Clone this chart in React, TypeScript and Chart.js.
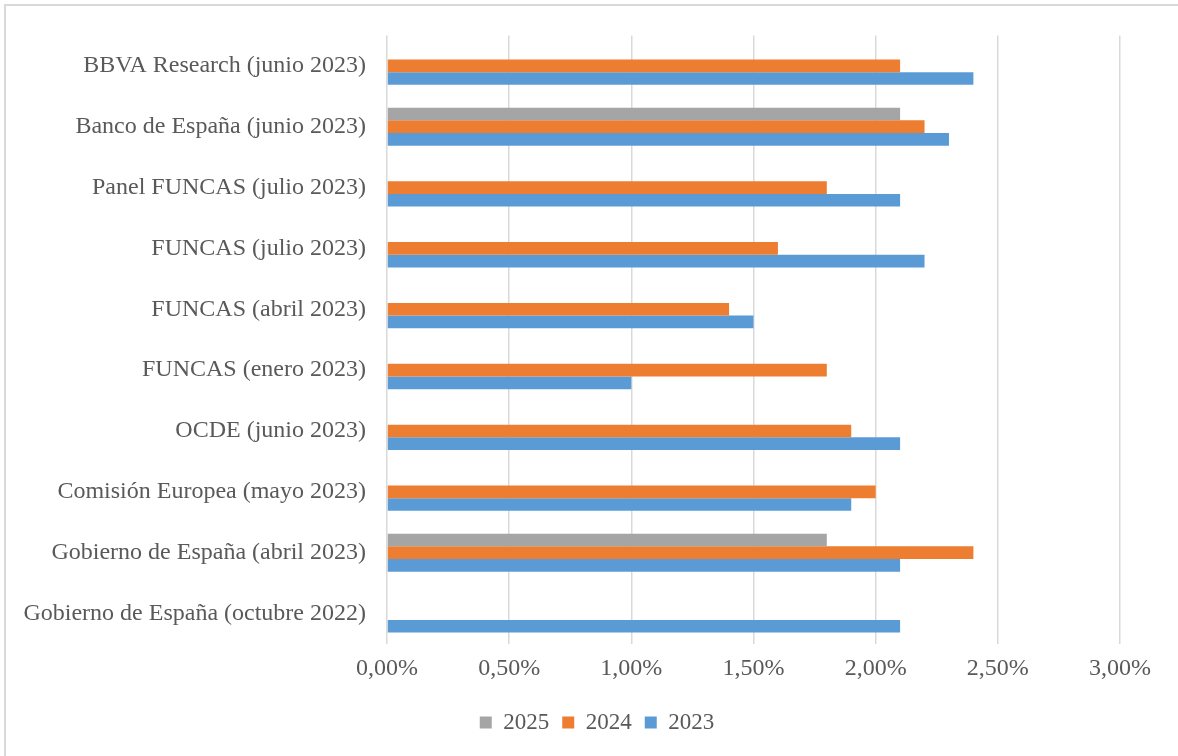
import React, { useEffect, useRef } from "react";
import { Chart, registerables } from "chart.js";

Chart.register(...registerables);

const categories = [
  "BBVA Research (junio 2023)",
  "Banco de España (junio 2023)",
  "Panel FUNCAS (julio 2023)",
  "FUNCAS (julio 2023)",
  "FUNCAS (abril 2023)",
  "FUNCAS (enero 2023)",
  "OCDE (junio 2023)",
  "Comisión Europea (mayo 2023)",
  "Gobierno de España (abril 2023)",
  "Gobierno de España (octubre 2022)",
];

const values2025: (number | null)[] = [null, 2.1, null, null, null, null, null, null, 1.8, null];
const values2024: (number | null)[] = [2.1, 2.2, 1.8, 1.6, 1.4, 1.8, 1.9, 2.0, 2.4, null];
const values2023: (number | null)[] = [2.4, 2.3, 2.1, 2.2, 1.5, 1.0, 2.1, 1.9, 2.1, 2.1];

const seriesLabels = ["2025", "2024", "2023"];
const seriesColors = ["#A5A5A5", "#ED7D31", "#5B9BD5"];

const xMin = 0;
const xMax = 3;
const xStep = 0.5;

const textColor = "#595959";
const gridColor = "#D9D9D9";
const fontFamily = "'Liberation Serif', 'Times New Roman', serif";

const framePlugin = {
  id: "frame",
  beforeDraw(chart: any) {
    const ctx = chart.ctx;
    ctx.save();
    ctx.fillStyle = "#ffffff";
    ctx.fillRect(0, 0, chart.width, chart.height);
    ctx.strokeStyle = gridColor;
    ctx.lineWidth = 2;
    ctx.strokeRect(5, 5, chart.width + 20, chart.height + 20);
    ctx.restore();
  },
};

const legendShiftPlugin = {
  id: "legendShift",
  afterLayout(chart: any) {
    const lg = chart.legend;
    if (lg) {
      lg.left += 37;
      lg.right += 37;
    }
  },
};

export default function App() {
  const ref = useRef<HTMLCanvasElement | null>(null);

  useEffect(() => {
    if (!ref.current) return;
    const data = [values2025, values2024, values2023];
    const chart = new Chart(ref.current, {
      type: "bar",
      data: {
        labels: categories,
        datasets: seriesLabels.map((label, i) => ({
          label,
          data: data[i],
          backgroundColor: seriesColors[i],
          borderWidth: 0,
          barPercentage: 1,
          categoryPercentage: 0.625,
        })),
      },
      options: {
        indexAxis: "y",
        animation: false,
        responsive: false,
        layout: { padding: { left: 0, right: 58, top: 33, bottom: 12 } },
        plugins: {
          legend: {
            position: "bottom",
            labels: {
              color: textColor,
              font: { family: fontFamily, size: 23 },
              boxWidth: 12,
              boxHeight: 12,
              padding: 13,
            },
          },
          tooltip: { enabled: false },
          title: { display: false },
        },
        scales: {
          x: {
            min: xMin,
            max: xMax,
            ticks: {
              stepSize: xStep,
              color: textColor,
              font: { family: fontFamily, size: 24 },
              padding: 10,
              callback: (v: any) => Number(v).toFixed(2).replace(".", ",") + "%",
            },
            grid: { color: gridColor, lineWidth: 1.5, drawTicks: false },
            border: { display: false },
            afterFit: (scale: any) => {
              scale.height = 54;
            },
          },
          y: {
            ticks: {
              color: textColor,
              font: { family: fontFamily, size: 24 },
              padding: 21,
            },
            grid: { display: false, drawTicks: false },
            border: { display: false },
            afterFit: (scale: any) => {
              scale.width = 387;
            },
          },
        },
      },
      plugins: [framePlugin, legendShiftPlugin],
    });
    return () => chart.destroy();
  }, []);

  return (
    <div style={{ position: "absolute", left: 0, top: 0, width: 1178, height: 756 }}>
      <canvas ref={ref} width={1178} height={756} style={{ display: "block" }} />
    </div>
  );
}
